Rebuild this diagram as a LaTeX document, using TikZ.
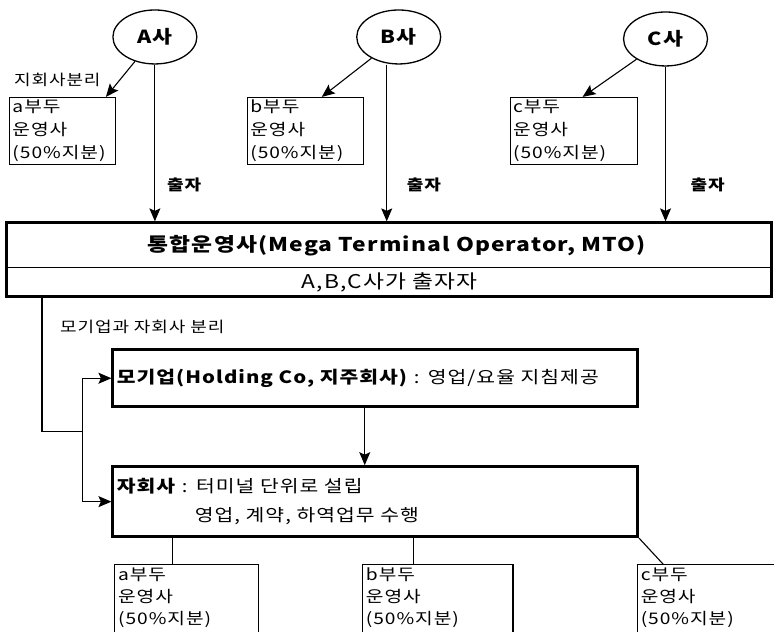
\documentclass[tikz,border=0pt]{standalone}
\usepackage{fontspec}
\setmainfont{Noto Sans CJK KR}[FakeStretch=1.2,LetterSpace=6]
\usetikzlibrary{shapes.geometric,arrows.meta,calc}
\tikzset{
  co/.style={ellipse,draw,line width=1.3pt,minimum width=84pt,minimum height=54pt,inner sep=0pt,font=\fontsize{18}{20}\selectfont\bfseries},
  sbox/.style={draw,line width=1pt,anchor=north west,align=left,inner xsep=3pt,inner ysep=2.5pt,font=\fontsize{16}{23}\selectfont},
  lowbox/.style={anchor=north west,align=left,inner xsep=3pt,inner ysep=3pt,font=\fontsize{16}{22}\selectfont},
  bigbox/.style={draw,line width=3pt,inner sep=0pt},
  lbl/.style={inner sep=0pt,font=\fontsize{15}{18}\selectfont},
  invlbl/.style={inner sep=0pt,anchor=west,font=\fontsize{15}{18}\selectfont\bfseries},
  arr/.style={-{Stealth[length=13pt,width=11pt,inset=2.5pt]},line width=1.1pt},
  ln/.style={line width=1.1pt}
}
\begin{document}
\begin{tikzpicture}[x=1pt,y=-1pt]
\fill[white] (0,0) rectangle (775,632);
% companies
\node[co] (A) at (155,37) {A사};
\node[co] (B) at (399,37) {B사};
\node[co] (C) at (666,39) {C사};
% top terminal boxes
\node[sbox,text width=100pt] (ta) at (9,97) {a부두\\운영사\\(50\%지분)};
\node[sbox,text width=110pt] (tb) at (247,97) {b부두\\운영사\\(50\%지분)};
\node[sbox,text width=121pt] (tc) at (510,97) {c부두\\운영사\\(50\%지분)};
\node[lbl,anchor=west] (sep1) at (14,80) {지회사분리};
% MTO
\node[bigbox,minimum width=765pt,minimum height=74pt] (mto) at (389.5,260) {};
\draw[line width=1.2pt] (mto.west |- 0,268) -- (mto.east |- 0,268);
\node[inner sep=0pt,font=\fontsize{19}{24}\selectfont\bfseries] (mtot) at (397,246) {통합운영사(Mega Terminal Operator, MTO)};
\node[inner sep=0pt,font=\fontsize{19}{22}\selectfont] (mtos) at (390,283) {A,B,C사가 출자자};
% arrows company -> terminal box
\draw[arr] (A) -- ($(ta.north east)+(-10,0)$);
\draw[arr] (B) -- ($(tb.north west)+(75,0)$);
\draw[arr] (C) -- ($(tc.north west)+(73,0)$);
% investment arrows
\coordinate (bs) at ($(B.south)+(-12,0)$);
\draw[arr] (A.south) -- (A.south |- mto.north);
\draw[arr] (bs) -- (bs |- mto.north);
\draw[arr] (C.south) -- (C.south |- mto.north);
\node[invlbl] (inv1) at (167,185) {출자};
\node[invlbl] (inv2) at (407,185) {출자};
\node[invlbl] (inv3) at (691,185) {출자};
% holding and subsidiary
\node[bigbox,minimum width=525pt,minimum height=57pt,text width=517pt,inner xsep=4pt,align=left,font=\fontsize{17}{20}\selectfont] (hold) at (375.5,378.5) {\textbf{모기업(Holding Co, 지주회사)} : 영업/요율 지침제공};
\node[bigbox,minimum width=525pt,minimum height=70pt,text width=517pt,inner xsep=4pt,align=left,font=\fontsize{17}{29}\selectfont] (sub) at (375.5,502) {\textbf{자회사} : 터미널 단위로 설립\\\hspace*{78pt}영업, 계약, 하역업무 수행};
\node[lbl,anchor=west] (sep2) at (60,327) {모기업과 자회사 분리};
% bracket connector
\coordinate (j1) at (42,432);
\coordinate (j2) at (83,432);
\draw[ln] (mto.south -| j1) -- (j1) -- (j2);
\draw[ln] (j2 |- hold.west) -- (j2 |- sub.west);
\draw[arr] (j2 |- hold.west) -- (hold.west);
\draw[arr] (j2 |- sub.west) -- (sub.west);
\draw[arr] (hold.south -| 365,0) -- (sub.north -| 365,0);
% lower terminal boxes (cut off at the bottom edge)
\node[lowbox,text width=137pt] (la) at (115,565) {a부두\\운영사\\(50\%지분)};
\node[lowbox,text width=144pt] (lb) at (363,565) {b부두\\운영사\\(50\%지분)};
\node[lowbox,text width=130pt] (lc) at (638,565) {c부두\\운영사\\(50\%지분)};
\draw[ln] (la.north west |- 0,632) -- (la.north west) -- (la.north east) -- (la.north east |- 0,632);
\draw[ln] (lb.north west |- 0,632) -- (lb.north west) -- (lb.north east) -- (lb.north east |- 0,632);
\draw[ln] (lc.north west |- 0,632) -- (lc.north west) -- (775,565);
\draw[ln] (sub.south -| 173,0) -- (la.north -| 173,0);
\draw[ln] (sub.south -| 414,0) -- (lb.north -| 414,0);
\draw[ln] (sub.south east) -- ($(lc.north west)+(26,0)$);
\useasboundingbox (0,0) rectangle (775,632);
\end{tikzpicture}
\end{document}
